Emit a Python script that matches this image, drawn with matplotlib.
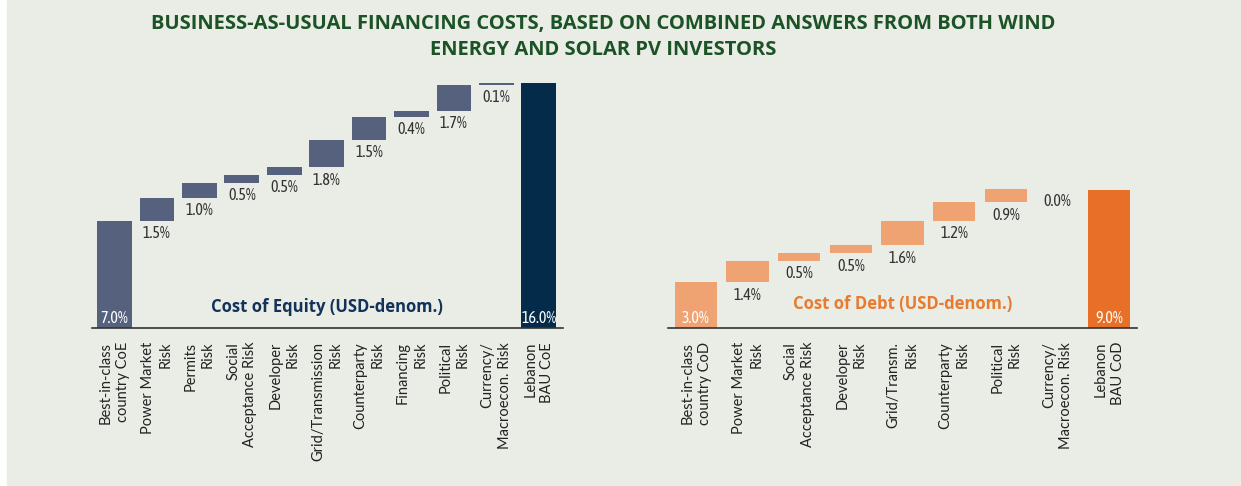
#!/usr/bin/env python

import numpy as np
import matplotlib.pyplot as plt

# cost of equity waterfall
coe_labels = ['Best-in-class\ncountry CoE', 'Power Market\nRisk', 'Permits\nRisk',
              'Social\nAcceptance Risk', 'Developer\nRisk', 'Grid/Transmission\nRisk',
              'Counterparty\nRisk', 'Financing\nRisk', 'Political\nRisk',
              'Currency/\nMacroecon. Risk', 'Lebanon\nBAU CoE']
coe_steps = [7.0, 1.5, 1.0, 0.5, 0.5, 1.8, 1.5, 0.4, 1.7, 0.1]
coe_total = 16.0

# cost of debt waterfall
cod_labels = ['Best-in-class\ncountry CoD', 'Power Market\nRisk', 'Social\nAcceptance Risk',
              'Developer\nRisk', 'Grid/Transm.\nRisk', 'Counterparty\nRisk',
              'Political\nRisk', 'Currency/\nMacroecon. Risk', 'Lebanon\nBAU CoD']
cod_steps = [3.0, 1.4, 0.5, 0.5, 1.6, 1.2, 0.9, 0.0]
cod_total = 9.0

BG = '#eaece6'
SANS = ['Lato', 'DejaVu Sans']
BOLD = ['Open Sans', 'DejaVu Sans']
NARROW = ['Asap Condensed', 'Barlow Condensed', 'DejaVu Sans']


def waterfall(ax, labels, steps, total, c_step, c_total, note, note_color, note_xy):
    n = len(steps)
    x = np.arange(n + 1)
    bottoms = np.concatenate([[0], np.cumsum(steps)[:-1]])
    ax.bar(x[:n], steps, bottom=bottoms, width=0.82, color=c_step, zorder=2)
    ax.bar(x[n], total, width=0.82, color=c_total, zorder=2)
    # values
    ax.text(x[0], 0.65, f'{steps[0]:.1f}%', color='white', ha='center', va='center',
            fontsize=11.5, family=NARROW)
    ax.text(x[n], 0.65, f'{total:.1f}%', color='white', ha='center', va='center',
            fontsize=11.5, family=NARROW)
    for xi, b, s in zip(x[1:n], bottoms[1:], steps[1:]):
        ax.text(xi, b - 0.3, f'{s:.1f}%', color='#333333', ha='center', va='top',
                fontsize=11.5, family=NARROW)
    ax.text(note_xy[0], note_xy[1], note, color=note_color, ha='center', va='center',
            fontsize=12, fontweight='bold', family=BOLD)
    ax.set_xticks(x)
    ax.set_xticklabels(labels, rotation=90, ha='center', va='top', multialignment='right',
                       fontsize=10.5, family=SANS, color='#222222', linespacing=1.3)
    ax.tick_params(axis='x', length=0, pad=10)
    ax.set_yticks([])
    ax.set_ylim(0, 17)
    for s in ['left', 'right', 'top']:
        ax.spines[s].set_visible(False)
    ax.spines['bottom'].set_color('#333333')
    ax.spines['bottom'].set_linewidth(1.2)
    ax.patch.set_alpha(0)


W, H = 1241, 486
fig = plt.figure(figsize=(W / 100, H / 100), dpi=100)
fig.patch.set_facecolor('white')
fig.add_artist(plt.Rectangle((7 / W, 1 / H), 1 - 7 / W, 1 - 1 / H, transform=fig.transFigure,
                             color=BG, zorder=0))

ypx = 15.31
ax1 = fig.add_axes([92 / W, (H - 328) / H, 471 / W, 17 * ypx / H])
ax1.set_xlim(-0.53, 10.57)
waterfall(ax1, coe_labels, coe_steps, coe_total, '#56617e', '#052b4b',
          'Cost of Equity (USD-denom.)', '#12325a', (5.0, 1.37))

ax2 = fig.add_axes([668 / W, (H - 328) / H, 469 / W, 17 * ypx / H])
ax2.set_xlim(-0.54, 8.54)
waterfall(ax2, cod_labels, cod_steps, cod_total, '#f0a372', '#e86f27',
          'Cost of Debt (USD-denom.)', '#e87b30', (4.0, 1.57))

fig.text(603 / W, 1 - 24 / H, 'BUSINESS-AS-USUAL FINANCING COSTS, BASED ON COMBINED ANSWERS FROM BOTH WIND',
         ha='center', va='center', fontsize=14.5, fontweight='bold', color='#1b5226', family=BOLD)
fig.text(603 / W, 1 - 50 / H, 'ENERGY AND SOLAR PV INVESTORS',
         ha='center', va='center', fontsize=14.5, fontweight='bold', color='#1b5226', family=BOLD)

fig.savefig('out.png', dpi=100, facecolor=fig.get_facecolor())
